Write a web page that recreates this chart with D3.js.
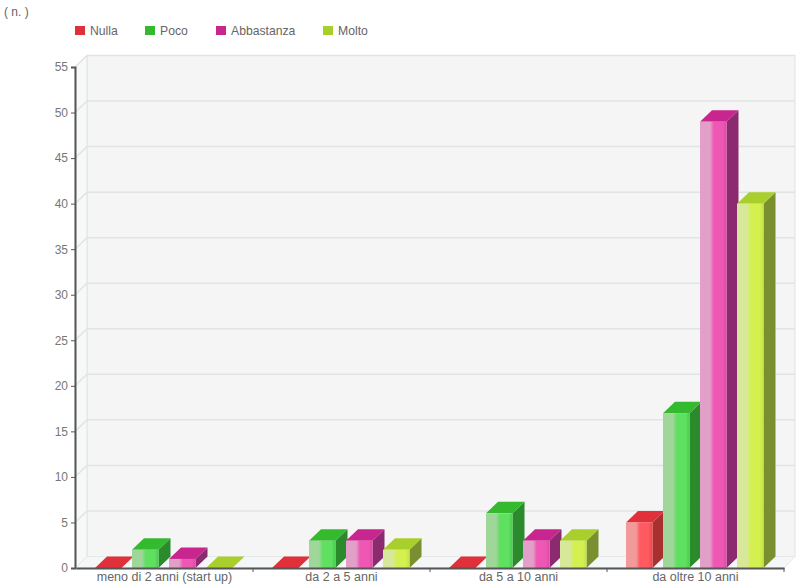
<!DOCTYPE html>
<html>
<head>
<meta charset="utf-8">
<script src="https://cdn.jsdelivr.net/npm/d3@7"></script>
<style>
  html, body { margin: 0; padding: 0; background: #fff; }
  text { font-family: "Liberation Sans", Arial, sans-serif; fill: #666; }
</style>
</head>
<body>
<svg id="chart" width="798" height="586"></svg>
<script>
const categories = ["meno di 2 anni (start up)", "da 2 a 5 anni", "da 5 a 10 anni", "da oltre 10 anni"];
const seriesNames = ["Nulla", "Poco", "Abbastanza", "Molto"];
const nulla = [0, 0, 0, 5];
const poco = [2, 3, 6, 17];
const abbastanza = [1, 3, 3, 49];
const molto = [0, 2, 3, 40];
const seriesValues = [nulla, poco, abbastanza, molto];
const yTicks = d3.range(0, 60, 5);
const unitLabel = "( n. )";

// Per-series shades: legend/top, pale face edge, bright face, right edge, side
const palette = [
  { top: "#e0303a", pale: "#f29a9a", bright: "#ff5a5f", edge: "#ee4448", side: "#a8302f" },
  { top: "#35b92f", pale: "#9fd69a", bright: "#5fe060", edge: "#48cc4c", side: "#2a8a2c" },
  { top: "#c9258f", pale: "#e2a0c8", bright: "#ee58b4", edge: "#e04aa8", side: "#8c2a70" },
  { top: "#a9cf2c", pale: "#d8e89a", bright: "#d4f050", edge: "#c4e244", side: "#7a9030" }
];

const depthX = 12;
const depthY = 11.5;
const svg = d3.select("#chart");
const defs = svg.append("defs");

palette.forEach((c, i) => {
  const g = defs.append("linearGradient").attr("id", "face" + i)
    .attr("x1", 0).attr("x2", 1).attr("y1", 0).attr("y2", 0);
  g.append("stop").attr("offset", "0%").attr("stop-color", c.pale);
  g.append("stop").attr("offset", "38%").attr("stop-color", c.pale);
  g.append("stop").attr("offset", "52%").attr("stop-color", c.bright);
  g.append("stop").attr("offset", "85%").attr("stop-color", c.bright);
  g.append("stop").attr("offset", "100%").attr("stop-color", c.edge);
});

const y = d3.scaleLinear().domain([0, 55]).range([568, 67]);
const x0 = d3.scaleBand().domain(categories).range([76, 784]);
const x1 = d3.scaleBand().domain(seriesNames).range([19, 156.5]).paddingInner(10.5 / 37);

const plotLeft = 75;
const plotRight = x0.range()[1];
const wall = { left: plotLeft + depthX, right: plotRight + depthX - 1, top: y(55) - depthY, bottom: y(0) - depthY };

// Back wall, side wall and floor of the 3D plot box
const box = svg.append("g");
box.append("rect")
  .attr("x", wall.left).attr("y", wall.top)
  .attr("width", wall.right - wall.left).attr("height", wall.bottom - wall.top)
  .attr("fill", "#f5f5f5").attr("stroke", "#dfe3e3");
box.append("polygon")
  .attr("points", [[plotLeft, y(55)], [wall.left, wall.top], [wall.left, wall.bottom], [plotLeft, y(0)]].join(" "))
  .attr("fill", "#f7f8f8").attr("stroke", "#e3e6e6");
box.append("polygon")
  .attr("points", [[plotLeft, y(0)], [wall.left, wall.bottom], [wall.right, wall.bottom], [plotRight, y(0)]].join(" "))
  .attr("fill", "#f4f6f8").attr("stroke", "#e6e9ea");

// Gridlines run along the side wall and then across the back wall
box.selectAll("path.grid").data(yTicks.filter(d => d > 0)).join("path")
  .attr("class", "grid")
  .attr("d", d => `M${plotLeft},${y(d)}L${wall.left},${y(d) - depthY}L${wall.right},${y(d) - depthY}`)
  .attr("fill", "none").attr("stroke", "#e2e4e4").attr("stroke-width", 1.5);

// Flatten the table into one record per bar, back to front
const bars = categories.flatMap((cat, ci) =>
  seriesNames.map((name, si) => ({ cat, name, si, value: seriesValues[si][ci] })));

const barW = x1.bandwidth();
const barG = svg.selectAll("g.bar").data(bars).join("g").attr("class", "bar")
  .attr("transform", d => `translate(${x0(d.cat) + x1(d.name)},0)`);

barG.append("polygon") // right side
  .attr("points", d => [[barW, y(d.value)], [barW + depthX, y(d.value) - depthY], [barW + depthX, y(0) - depthY], [barW, y(0)]].join(" "))
  .attr("fill", d => palette[d.si].side);
barG.append("polygon") // top
  .attr("points", d => [[0, y(d.value)], [depthX, y(d.value) - depthY], [barW + depthX, y(d.value) - depthY], [barW, y(d.value)]].join(" "))
  .attr("fill", d => palette[d.si].top);
barG.append("rect") // front
  .attr("x", 0).attr("y", d => y(d.value))
  .attr("width", barW).attr("height", d => y(0) - y(d.value))
  .attr("fill", d => `url(#face${d.si})`);

// Axes
const yAxis = svg.append("g").attr("transform", `translate(${plotLeft},0)`)
  .call(d3.axisLeft(y).tickValues(yTicks).tickSize(4).tickPadding(3));
yAxis.selectAll("text").attr("font-size", 12).style("fill", "#777");

const xAxis = svg.append("g").attr("transform", `translate(0,${y(0)})`)
  .call(d3.axisBottom(x0).tickSize(0).tickPadding(4));
xAxis.selectAll("text").attr("font-size", 12.5).style("fill", "#666");

// Category boundaries get the tick marks, not the band centres
svg.append("g").selectAll("line").data(d3.range(1, categories.length + 1)).join("line")
  .attr("x1", i => x0.range()[0] + i * x0.step()).attr("x2", i => x0.range()[0] + i * x0.step())
  .attr("y1", y(0)).attr("y2", y(0) + 4).attr("stroke", "#555");

svg.selectAll(".domain").attr("stroke", "#555").attr("stroke-width", 2);
svg.selectAll(".tick line").attr("stroke", "#555");

// Legend
const legendSwatchX = [75, 145, 216, 323];
const legend = svg.append("g").selectAll("g").data(seriesNames).join("g")
  .attr("transform", (d, i) => `translate(${legendSwatchX[i]},26)`);
legend.append("rect").attr("width", 10).attr("height", 9)
  .attr("fill", (d, i) => palette[i].top);
legend.append("text").attr("x", 15).attr("y", 8.5).attr("font-size", 12.2).text(d => d);

svg.append("text").attr("x", 4).attr("y", 16).attr("font-size", 12).text(unitLabel);
</script>
</body>
</html>
